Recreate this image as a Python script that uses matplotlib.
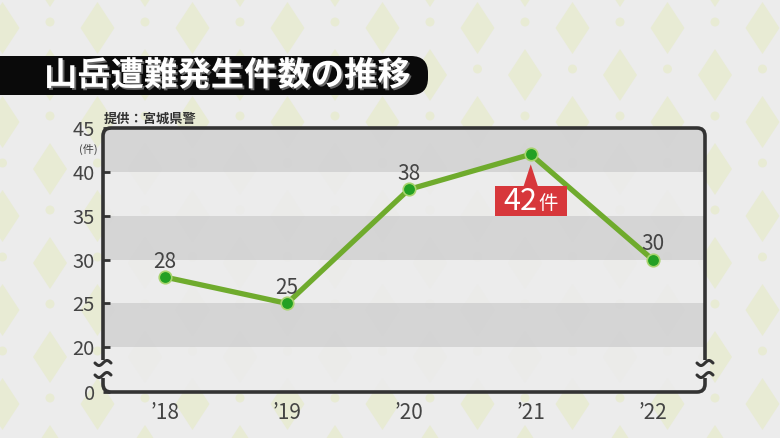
import numpy as np
import matplotlib
matplotlib.use("Agg")
import matplotlib.pyplot as plt
import matplotlib.transforms as mtransforms
import matplotlib.patheffects as pe
from matplotlib.patches import FancyBboxPatch, Polygon, Rectangle, Circle

plt.rcParams['font.family'] = ['Noto Sans CJK JP', 'DejaVu Sans']

# data
years = ["’18", "’19", "’20", "’21", "’22"]
counts = [28, 25, 38, 42, 30]
highlight = 3  # '21 gets the red callout
yticks = [20, 25, 30, 35, 40, 45]
y_floor = 14.9  # bottom of the broken axis, labelled 0

title = "山岳遭難発生件数の推移"
source = "提供：宮城県警"
unit = "(件)"

W, H = 780, 438
fig = plt.figure(figsize=(W / 100, H / 100), dpi=100)
fig.patch.set_facecolor('#ececec')
px = fig.dpi_scale_trans


def P(x, y):
    # pixel position (from top-left) -> inches from bottom-left
    return x / 100, (H - y) / 100


# diamond wallpaper
pale = '#e8ebd4'
for i in range(-1, 18):
    for j in range(-1, 11):
        cx = 2.5 + i * 47.5
        cy = 28 + j * 47
        if (i + j) % 2 == 0:
            verts = [P(cx, cy - 26), P(cx + 17, cy), P(cx, cy + 26), P(cx - 17, cy)]
            fig.add_artist(Polygon(verts, closed=True, transform=px, fc=pale,
                                   ec='none', zorder=-2))
        else:
            fig.add_artist(Circle(P(cx, cy - 6), 0.045, transform=px, fc=pale,
                                  ec='none', zorder=-2))

# title bar
fig.add_artist(FancyBboxPatch((-0.3, 3.43), 4.58, 0.39,
                              boxstyle="round,pad=0,rounding_size=0.17",
                              transform=px, fc='#0a0a0a', ec='none', zorder=1))
fig.text(*P(44, 76), title, transform=px, fontsize=24, fontweight='bold',
         color='white', ha='left', va='center', zorder=2,
         path_effects=[pe.SimplePatchShadow(offset=(1.3, -1.3), shadow_rgbFace='#666666', alpha=1),
                       pe.Normal()])
fig.text(*P(104, 119), source, transform=px, fontsize=9.5, fontweight='bold',
         color='#333333', ha='left', va='center')
fig.text(*P(88, 149), unit, transform=px, fontsize=8, color='#444444',
         ha='center', va='center')

# plot area
ax = fig.add_axes([103 / W, 1 - 392 / H, 602 / W, 264 / H])
ax.patch.set_visible(False)
for s in ax.spines.values():
    s.set_visible(False)

fill = FancyBboxPatch((1.03, 0.46), 6.02, 2.64,
                      boxstyle="round,pad=0,rounding_size=0.08",
                      transform=px, fc=(0.925, 0.925, 0.925, 0.88), ec='none', zorder=0)
ax.add_patch(fill)
for lo in (20, 30, 40):
    span = ax.axhspan(lo, lo + 5, color='#d3d3d3', alpha=0.92, lw=0, zorder=0.5)
    span.set_clip_path(fill)

ax.set_xlim(-0.51, 4.43)
ax.set_ylim(y_floor, 45)

ax.plot(range(len(counts)), counts, color='#6fab2d', lw=3.8, zorder=3,
        solid_joinstyle='round')
ax.plot(range(len(counts)), counts, 'o', ms=9, mfc='#23a023', mec='#a8d46e',
        mew=1.2, zorder=4)

for i, v in enumerate(counts):
    if i == highlight:
        continue
    ax.annotate(str(v), (i, v), xytext=(0, 11), textcoords='offset points',
                ha='center', va='center', fontsize=15, color='#444444')

# red callout under the peak
trans = px + mtransforms.ScaledTranslation(highlight, counts[highlight], ax.transData)
red = '#d7373b'
ax.add_patch(Rectangle((-0.36, -0.62), 0.72, 0.30, transform=trans, fc=red,
                       ec='none', zorder=6, clip_on=False))
ax.add_patch(Polygon([(-0.075, -0.33), (0.075, -0.33), (0, -0.10)], closed=True,
                     transform=trans, fc=red, ec='none', zorder=6, clip_on=False))
ax.text(-0.10, -0.475, str(counts[highlight]), transform=trans, fontsize=22,
        color='white', ha='center', va='center', zorder=7)
ax.text(0.175, -0.49, "件", transform=trans, fontsize=14, color='white',
        ha='center', va='center', zorder=7)

ax.set_yticks([y_floor] + yticks, ['0'] + [str(v) for v in yticks])
ax.tick_params(axis='y', direction='in', length=5, width=2, color='#333333',
               pad=6, labelsize=14.5, labelcolor='#444444')
ax.set_xticks(range(len(years)), years)
ax.tick_params(axis='x', length=0, pad=7, labelsize=15, labelcolor='#444444')

# frame with axis breaks
fig.add_artist(FancyBboxPatch((1.03, 0.46), 6.02, 2.64,
                              boxstyle="round,pad=0,rounding_size=0.08",
                              transform=px, fc='none', ec='#333333', lw=2.6, zorder=5))
t = np.linspace(-1, 1, 40)
for sx in (103, 705):
    fig.add_artist(Rectangle(P(sx - 5, 378), 0.10, 0.18, transform=px,
                             fc='#ececec', ec='none', zorder=6))
    for by in (363, 375):
        xs = (sx + 8 * t) / 100
        ys = (H - by + 2.5 * np.sin(np.pi * t)) / 100
        fig.add_artist(plt.Line2D(xs, ys, transform=px, color='#333333', lw=2.2,
                                  zorder=7, solid_capstyle='round'))

fig.savefig('out.png', dpi=100)
